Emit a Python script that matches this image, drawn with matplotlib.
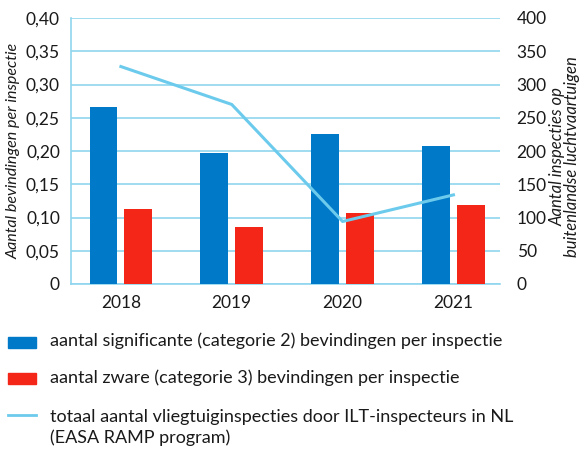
import numpy as np
import matplotlib.pyplot as plt
from matplotlib.patches import Rectangle
from matplotlib.lines import Line2D

plt.rcParams['font.family'] = ['Lato', 'DejaVu Sans']

years = ['2018', '2019', '2020', '2021']
cat2 = [0.266, 0.197, 0.226, 0.208]
cat3 = [0.113, 0.086, 0.107, 0.119]
inspecties = [327, 270, 94, 134]

left_ticks = [0, 0.05, 0.10, 0.15, 0.20, 0.25, 0.30, 0.35, 0.40]
left_labels = ['0', '0,05', '0,10', '0,15', '0,20', '0,25', '0,30', '0,35', '0,40']
right_ticks = [0, 50, 100, 150, 200, 250, 300, 350, 400]

blue = '#0079c8'
red = '#f42618'
lineblue = '#6ccbec'
grid = '#8fd5ef'
txt = '#1a1a1a'

fig = plt.figure(figsize=(5.79, 4.5), dpi=100)
ax = fig.add_axes([71 / 579, 1 - 284 / 450, (500 - 71) / 579, (284 - 18) / 450])
x = np.arange(len(years))
w = 0.25
ax.bar(x - 0.157, cat2, w, color=blue, zorder=3)
ax.bar(x + 0.157, cat3, w, color=red, zorder=3)
ax.set_xlim(-0.45, 3.42)
ax.set_ylim(0, 0.40)
ax.set_yticks(left_ticks)
ax.set_yticklabels(left_labels)
ax.set_xticks(x)
ax.set_xticklabels(years)
ax.yaxis.grid(True, color=grid, lw=1.2, zorder=0)
ax.set_axisbelow(True)
for s in ['top', 'right']:
    ax.spines[s].set_visible(False)
ax.spines['left'].set_color(grid)
ax.spines['bottom'].set_color(grid)
ax.spines['left'].set_linewidth(1.2)
ax.spines['bottom'].set_linewidth(1.2)
ax.tick_params(length=0, labelsize=12.5, colors=txt, pad=8)
ax.set_ylabel('Aantal bevindingen per inspectie', style='italic', fontsize=11.5, color=txt, labelpad=4)

ax2 = ax.twinx()
ax2.plot(x, inspecties, color=lineblue, lw=2.2, zorder=4)
ax2.set_ylim(0, 400)
ax2.set_yticks(right_ticks)
for s in ax2.spines.values():
    s.set_visible(False)
ax2.tick_params(length=0, labelsize=12.5, colors=txt, pad=12)

# right axis title placed by hand so it fits in the figure
fig.text(565 / 579, 1 - 157 / 450, 'Aantal inspecties op\nbuitenlandse luchtvaartuigen',
         style='italic', fontsize=12, color=txt, rotation=90, ha='center', va='center',
         linespacing=0.92)

# legend drawn by hand below the chart
fig.patches.append(Rectangle((8 / 579, 1 - 348 / 450), 28 / 579, 11 / 450,
                             transform=fig.transFigure, color=blue))
fig.patches.append(Rectangle((8 / 579, 1 - 384 / 450), 28 / 579, 11 / 450,
                             transform=fig.transFigure, color=red))
fig.lines.append(Line2D([8 / 579, 36 / 579], [1 - 415 / 450, 1 - 415 / 450],
                        transform=fig.transFigure, color=lineblue, lw=2))
fig.text(50 / 579, 1 - 341 / 450, 'aantal significante (categorie 2) bevindingen per inspectie',
         fontsize=13, color=txt, va='center')
fig.text(50 / 579, 1 - 378 / 450, 'aantal zware (categorie 3) bevindingen per inspectie',
         fontsize=13, color=txt, va='center')
fig.text(50 / 579, 1 - 417 / 450, 'totaal aantal vliegtuiginspecties door ILT-inspecteurs in NL',
         fontsize=13, color=txt, va='center')
fig.text(50 / 579, 1 - 438 / 450, '(EASA RAMP program)',
         fontsize=13, color=txt, va='center')

fig.savefig('out.png', dpi=100)
